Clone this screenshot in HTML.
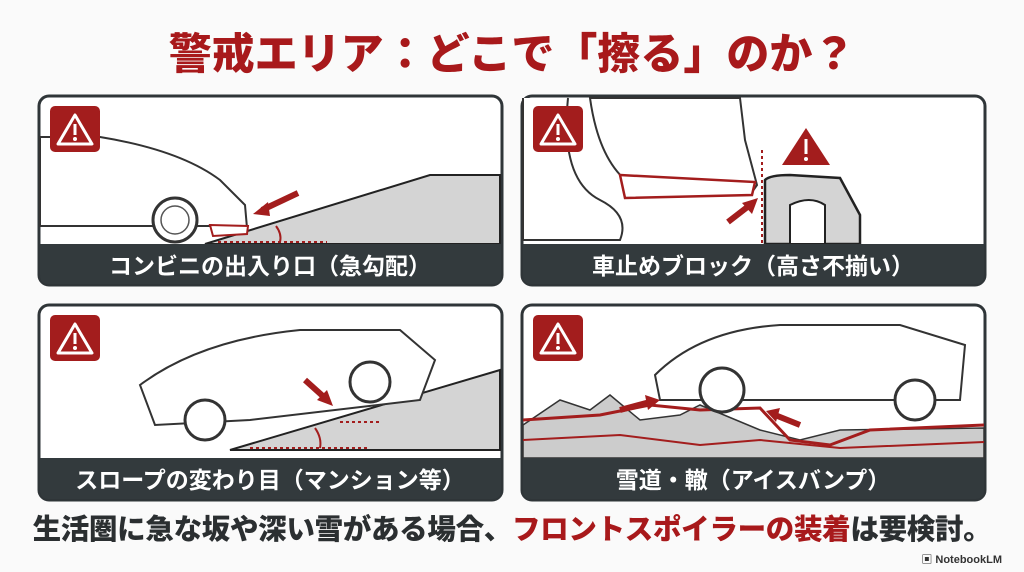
<!DOCTYPE html>
<html><head><meta charset="utf-8"><style>
body{margin:0;width:1024px;height:572px;background:#fafafa;font-family:"Liberation Sans","Noto Sans CJK JP",sans-serif;position:relative;overflow:hidden}
.t{position:absolute;left:0;width:1024px;text-align:center;top:20px;font-size:43px;font-weight:900;color:#a8191b;letter-spacing:0px}
.b{position:absolute;left:0;width:1024px;text-align:center;top:507px;font-size:28.5px;font-weight:900;color:#2b2f31;white-space:nowrap;letter-spacing:-0.3px}
.b span{color:#a8191b}
.w{position:absolute;right:22px;top:551px;font-size:11px;color:#333;font-weight:bold}
</style></head><body>
<div class="t">警戒エリア：どこで「擦る」のか？</div>
<svg width="1024" height="572" style="position:absolute;left:0;top:0">
<defs>
<g id="warn"><rect width="50" height="46" rx="5" fill="#a31d1d"/><path d="M25 9 L42 38 L8 38 Z" fill="none" stroke="#fff" stroke-width="3" stroke-linejoin="round"/><rect x="23.5" y="18" width="3" height="11" fill="#fff"/><circle cx="25" cy="33" r="2" fill="#fff"/></g>
</defs>
<g>
<rect x="39" y="96" width="463" height="189" rx="10" fill="#fff" stroke="#2f3538" stroke-width="3"/>
<path d="M205 244 L430 175 L500 175 L500 244 Z" fill="#d4d4d4" stroke="#222" stroke-width="2"/>
<path d="M40 137 L100 137 Q180 150 220 180 L245 205 L247 228 L210 226 L40 226 Z" fill="#fff" stroke="#333" stroke-width="2"/>
<circle cx="175" cy="220" r="22" fill="#fff" stroke="#333" stroke-width="3"/>
<circle cx="175" cy="220" r="14" fill="#fff" stroke="#555" stroke-width="1.5"/>
<path d="M210 225 L248 226 L247 234 L213 236 Z" fill="#fff" stroke="#a31d1d" stroke-width="2"/>
<path d="M298 193 L262 210" stroke="#a31d1d" stroke-width="6"/><path d="M253 214 L268 202 L270 216 Z" fill="#a31d1d"/>
<line x1="218" y1="242" x2="327" y2="242" stroke="#a31d1d" stroke-width="2" stroke-dasharray="3,3"/>
<path d="M276 226 Q282 234 280 242" fill="none" stroke="#a31d1d" stroke-width="2"/>
<path d="M40 244 H501 V275 Q501 284 492 284 H49 Q40 284 40 275 Z" fill="#333a3d"/>
<text x="270" y="274" font-size="23" font-weight="bold" fill="#fff" text-anchor="middle">コンビニの出入り口（急勾配）</text>
<use href="#warn" x="50" y="106"/>
</g>
<g>
<rect x="522" y="96" width="463" height="189" rx="10" fill="#fff" stroke="#2f3538" stroke-width="3"/>
<path d="M590 98 Q600 170 640 190 L750 195 L757 185 L745 140 L740 98 Z" fill="#fff" stroke="#333" stroke-width="2"/>
<path d="M568 98 Q560 180 600 200 Q630 215 620 240 L523 240 L523 98" fill="#fff" stroke="#333" stroke-width="2"/>
<path d="M620 175 L755 182 L752 195 L625 198 Z" fill="#fff" stroke="#a31d1d" stroke-width="2.5"/>
<path d="M765 244 L765 180 Q770 175 790 175 L840 178 L860 215 L860 244 Z" fill="#d4d4d4" stroke="#222" stroke-width="2.5"/>
<path d="M790 244 L790 205 Q810 195 825 205 L825 244 Z" fill="#fff" stroke="#222" stroke-width="2"/>
<line x1="762" y1="150" x2="762" y2="244" stroke="#a31d1d" stroke-width="2" stroke-dasharray="3,3"/>
<path d="M728 222 L750 205" stroke="#a31d1d" stroke-width="6"/><path d="M758 198 L742 203 L752 214 Z" fill="#a31d1d"/>
<path d="M806 128 L830 165 L782 165 Z" fill="#a31d1d"/><rect x="804.5" y="139" width="3" height="15" fill="#fff"/><circle cx="806" cy="159" r="2" fill="#fff"/>
<path d="M523 244 H984 V275 Q984 284 975 284 H532 Q523 284 523 275 Z" fill="#333a3d"/>
<text x="753" y="274" font-size="23" font-weight="bold" fill="#fff" text-anchor="middle">車止めブロック（高さ不揃い）</text>
<use href="#warn" x="533" y="106"/>
</g>
<g>
<rect x="39" y="305" width="463" height="195" rx="10" fill="#fff" stroke="#2f3538" stroke-width="3"/>
<path d="M230 450 L500 370 L500 450 Z" fill="#d4d4d4" stroke="#222" stroke-width="2"/>
<path d="M140 385 Q200 340 300 330 L400 330 L435 360 L420 400 L250 420 L155 425 Z" fill="#fff" stroke="#333" stroke-width="2"/>
<circle cx="205" cy="420" r="20" fill="#fff" stroke="#333" stroke-width="3"/>
<circle cx="370" cy="382" r="20" fill="#fff" stroke="#333" stroke-width="3"/>
<path d="M305 380 L325 398" stroke="#a31d1d" stroke-width="6"/><path d="M333 406 L317 400 L327 390 Z" fill="#a31d1d"/>
<line x1="250" y1="448" x2="370" y2="448" stroke="#a31d1d" stroke-width="2" stroke-dasharray="3,3"/>
<line x1="340" y1="422" x2="380" y2="422" stroke="#a31d1d" stroke-width="2" stroke-dasharray="3,3"/>
<path d="M315 428 Q322 438 320 448" fill="none" stroke="#a31d1d" stroke-width="2"/>
<path d="M40 458 H501 V490 Q501 499 492 499 H49 Q40 499 40 490 Z" fill="#333a3d"/>
<text x="270" y="488" font-size="23" font-weight="bold" fill="#fff" text-anchor="middle">スロープの変わり目（マンション等）</text>
<use href="#warn" x="50" y="315"/>
</g>
<g>
<rect x="522" y="305" width="463" height="195" rx="10" fill="#fff" stroke="#2f3538" stroke-width="3"/>
<path d="M523 425 L560 400 L590 410 L610 395 L640 420 L680 415 L700 405 L760 430 L800 440 L840 430 L984 428 L984 458 L523 458 Z" fill="#ccc" stroke="#333" stroke-width="1.5"/>
<path d="M523 420 L600 415 L650 405 L700 410 L760 408 L790 440 L830 445 L870 430 L984 425" fill="none" stroke="#a31d1d" stroke-width="3"/>
<path d="M523 440 L620 435 L700 445 L760 440 L840 448 L984 442" fill="none" stroke="#a31d1d" stroke-width="2"/>
<path d="M655 375 Q700 330 780 325 L900 325 L965 345 L960 400 L660 400 Z" fill="#fff" stroke="#333" stroke-width="2"/>
<circle cx="722" cy="390" r="22" fill="#fff" stroke="#333" stroke-width="3"/>
<circle cx="915" cy="400" r="20" fill="#fff" stroke="#333" stroke-width="3"/>
<path d="M620 410 L650 402" stroke="#a31d1d" stroke-width="6"/><path d="M660 400 L645 395 L648 410 Z" fill="#a31d1d"/>
<path d="M800 425 L775 415" stroke="#a31d1d" stroke-width="6"/><path d="M766 411 L780 408 L776 422 Z" fill="#a31d1d"/>
<path d="M523 458 H984 V490 Q984 499 975 499 H532 Q523 499 523 490 Z" fill="#333a3d"/>
<text x="753" y="488" font-size="23" font-weight="bold" fill="#fff" text-anchor="middle">雪道・轍（アイスバンプ）</text>
<use href="#warn" x="533" y="315"/>
</g>
</svg>
<div class="b">生活圏に急な坂や深い雪がある場合、<span>フロントスポイラーの装着</span>は要検討。</div>
<div class="w">▣ NotebookLM</div>
</body></html>
